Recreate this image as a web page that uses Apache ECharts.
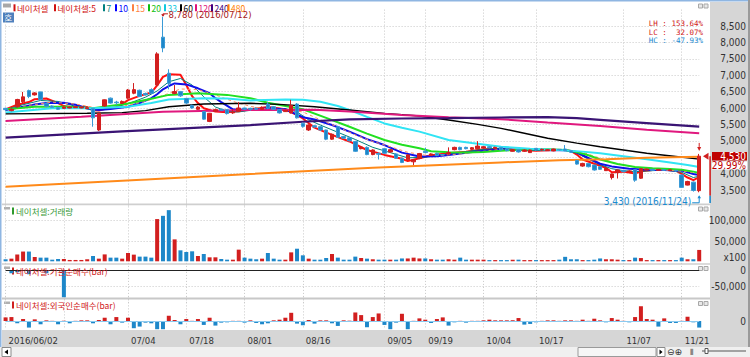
<!DOCTYPE html>
<html><head><meta charset="utf-8">
<script src="https://cdn.jsdelivr.net/npm/echarts@6/dist/echarts.min.js"></script>
<style>html,body{margin:0;padding:0;background:#fff}#c{width:750px;height:357px}</style>
</head><body><div id="c"></div>
<script>
const dates = [
'2016/06/02','2016/06/03','2016/06/07','2016/06/08','2016/06/09','2016/06/10','2016/06/13','2016/06/14','2016/06/15','2016/06/16',
'2016/06/17','2016/06/20','2016/06/21','2016/06/22','2016/06/23','2016/06/24','2016/06/27','2016/06/28','2016/06/29','2016/06/30',
'2016/07/01','2016/07/04','2016/07/05','2016/07/06','2016/07/07','2016/07/08','2016/07/11','2016/07/12','2016/07/13','2016/07/14',
'2016/07/15','2016/07/18','2016/07/19','2016/07/20','2016/07/21','2016/07/22','2016/07/25','2016/07/26','2016/07/27','2016/07/28',
'2016/07/29','2016/08/01','2016/08/02','2016/08/03','2016/08/04','2016/08/05','2016/08/08','2016/08/09','2016/08/10','2016/08/11',
'2016/08/12','2016/08/16','2016/08/17','2016/08/18','2016/08/19','2016/08/22','2016/08/23','2016/08/24','2016/08/25','2016/08/26',
'2016/08/29','2016/08/30','2016/08/31','2016/09/01','2016/09/02','2016/09/05','2016/09/06','2016/09/07','2016/09/08','2016/09/09',
'2016/09/12','2016/09/13','2016/09/19','2016/09/20','2016/09/21','2016/09/22','2016/09/23','2016/09/26','2016/09/27','2016/09/28',
'2016/09/29','2016/09/30','2016/10/04','2016/10/05','2016/10/06','2016/10/07','2016/10/10','2016/10/11','2016/10/12','2016/10/13',
'2016/10/14','2016/10/17','2016/10/18','2016/10/19','2016/10/20','2016/10/21','2016/10/24','2016/10/25','2016/10/26','2016/10/27',
'2016/10/28','2016/10/31','2016/11/01','2016/11/02','2016/11/03','2016/11/04','2016/11/07','2016/11/08','2016/11/09','2016/11/10',
'2016/11/11','2016/11/14','2016/11/15','2016/11/16','2016/11/17','2016/11/18','2016/11/21','2016/11/22','2016/11/23','2016/11/24'];

// [open, close, low, high]
const candles = [
[5990,5950,5900,6010],[5920,5960,5900,5990],[6040,6260,6010,6280],[6190,6340,6150,6490],[6530,6350,6300,6560],
[6400,6460,6380,6480],[6490,6260,6240,6500],[6140,6050,6020,6170],[6060,6020,6000,6080],[6010,5960,5940,6040],
[5990,6030,5970,6060],[6000,6030,5990,6050],[6010,6040,6000,6060],[6000,6030,5990,6050],[5980,6010,5970,6030],
[5990,5700,5430,6000],[5330,5840,5300,5850],[6060,6250,6040,6260],[6300,6150,6130,6320],[6180,6160,6100,6220],
[6140,6200,6120,6230],[6300,6550,6280,6580],[6450,6560,6420,6760],[6540,6350,6330,6560],[6440,6400,6380,6470],
[6560,6450,6430,6600],[6700,7650,6650,7700],[8160,7830,7700,8780],[7060,6750,6570,7180],[6440,6500,6420,6700],
[6500,6370,6340,6520],[6290,6150,6120,6300],[6080,6000,5980,6100],[5960,6030,5940,6060],[5890,5660,5640,5900],
[5590,5840,5570,5850],[5900,5950,5880,5980],[5960,5930,5910,5980],[5950,5830,5800,5960],[5850,5880,5820,5960],
[5900,6000,5890,6180],[6000,5960,5940,6010],[5990,5960,5920,6010],[5990,5960,5940,6020],[5960,6000,5950,6050],
[6120,5990,5960,6180],[6040,5960,5940,6060],[5950,5850,5830,5960],[5890,5930,5880,5950],[5850,6080,5830,6250],
[6120,5700,5680,6150],[5530,5440,5400,5560],[5330,5480,5300,5500],[5460,5420,5400,5480],[5430,5330,5300,5440],
[5330,5050,5020,5340],[5050,5200,5030,5220],[5430,5110,5090,5460],[5130,5080,5060,5150],[5090,5000,4980,5110],
[4980,4680,4660,5000],[4760,4810,4740,4830],[4800,4580,4560,4830],[4580,4720,4560,4740],[4610,4590,4430,4650],
[4760,4620,4600,4780],[4660,4730,4640,4750],[4600,4470,4450,4620],[4470,4340,4320,4480],[4420,4570,4400,4590],
[4360,4420,4260,4440],[4460,4610,4440,4630],[4680,4640,4620,4790],[4550,4600,4540,4620],[4620,4550,4530,4640],
[4580,4570,4550,4600],[4600,4640,4580,4800],[4730,4800,4710,4820],[4800,4730,4710,4820],[4800,4760,4740,4820],
[4740,4790,4720,4810],[4760,4840,4740,4990],[4780,4820,4760,4840],[4820,4790,4770,4840],[4760,4800,4740,4820],
[4800,4720,4700,4810],[4760,4700,4680,4770],[4680,4730,4670,4750],[4730,4660,4640,4740],[4680,4720,4660,4740],
[4640,4720,4630,4730],[4770,4720,4700,4780],[4720,4740,4700,4760],[4700,4730,4690,4750],[4690,4750,4680,4760],
[4740,4720,4700,4750],[4750,4700,4680,4870],[4700,4650,4630,4710],[4400,4290,4270,4420],[4230,4310,4210,4330],
[4310,4210,4190,4320],[4260,4110,4090,4270],[4210,4130,4110,4220],[4090,4160,4080,4170],[3880,3990,3820,4000],
[4030,4110,3850,4120],[4100,4060,4040,4110],[4060,4080,4040,4100],[4120,3800,3750,4130],[3860,4150,3840,4170],
[4110,4140,4100,4150],[4130,4100,4090,4140],[4100,4130,4090,4140],[4120,4100,4090,4130],[4090,4120,4080,4130],
[4100,4080,4060,4110],[3960,3580,3560,3970],[3650,3760,3640,3780],[3740,3485,3450,3760],[3480,4530,3430,4600]];

// volume (x100 shares)
const volume = [
5000,6500,17000,24000,24000,10600,9000,9000,4000,5700,
5700,3300,3300,3300,5000,13000,6500,17000,9000,9000,
6500,20500,16400,11500,11500,9000,104000,112000,126000,54000,
27000,23000,24600,13000,18000,9800,9800,5700,4000,4000,
28700,9000,6500,5000,6500,20500,6500,4000,4000,22000,
31000,14700,6500,4000,4000,8200,18000,9000,4000,4000,
11500,8200,6500,5000,4000,4000,4000,4000,7000,7000,
9000,7000,7000,5000,4000,4000,5000,4000,9000,4000,
4000,4000,4000,3000,3000,3000,3000,4000,4000,3000,
3000,3000,3000,3000,3000,4000,11000,5000,5000,3000,
3000,4000,7000,5000,5000,4000,3000,3000,9000,8000,
3000,3000,3000,3000,3000,3000,9000,5000,5000,28000];

// institution net buying
const instNet = [
0,-9000,-6000,0,-12000,0,0,-9000,0,0,
-82000,0,0,0,0,0,0,0,0,0,
0,0,0,0,0,0,0,0,0,0,
0,0,0,0,0,0,0,0,0,0,
0,0,0,0,0,0,0,0,0,0,
0,0,0,0,0,0,0,0,0,0,
0,0,0,0,0,0,0,0,0,0,
0,0,0,0,0,0,0,0,0,0,
0,0,0,0,1500,0,0,0,0,0,
0,0,0,0,0,0,0,1500,0,1500,
0,0,1500,1500,0,-1500,0,0,0,0,
0,0,0,0,0,0,0,0,0,0];

// foreign net buying
const foreignNet = [
11000,12000,-7000,6000,-20000,5000,-10000,2000,500,-10000,
1000,-7000,500,2000,2000,-7000,3000,10000,-10000,12000,
-5000,10000,-22000,-17000,-5000,-7000,-27000,-27000,16000,3000,
-10000,6000,500,6000,-12000,10000,-14000,-5000,-4000,500,
500,-5000,2000,-6000,-10000,-7000,2000,4000,10000,25000,
-8000,-13000,3000,-8000,2000,2000,-7000,-15000,2000,1000,
26000,18000,-19000,12000,23000,-12000,-27000,-5000,22000,-27000,
500,8000,4000,-6000,6000,11000,-14000,-4000,500,-5000,
500,500,2000,4000,2000,2000,2000,2000,9000,-11000,
-9000,-4000,500,2000,2000,500,2000,2000,500,4000,
500,7000,2000,-4000,9000,4000,500,-4000,12000,45000,
6000,4000,-17000,8000,-6000,-6000,500,13000,-4000,-20000];

// moving averages: [dayIndex, price]
const ma5 = [[0,5960],[2,6100],[4,6180],[5,6270],[7,6290],[9,6150],[10,6060],[12,6010],[14,6030],[15,5930],[16,5920],[17,5970],[19,6020],[20,6120],[21,6240],[23,6370],[25,6470],[26,6690],[27,6950],[28,7030],[30,7010],[31,6700],[32,6360],[33,6150],[34,5990],[36,5890],[38,5870],[40,5900],[42,5960],[45,6030],[48,5960],[50,5780],[51,5680],[53,5400],[56,5180],[59,4980],[62,4720],[65,4570],[68,4450],[69,4380],[71,4470],[73,4560],[76,4620],[79,4670],[82,4740],[85,4760],[88,4720],[91,4700],[94,4720],[96,4720],[97,4690],[98,4580],[99,4430],[101,4300],[103,4180],[104,4040],[106,4060],[108,4000],[109,4070],[111,4110],[114,4110],[115,4090],[116,3990],[117,3880],[118,3800],[119,3890]];
const ma7 = [[0,5950],[3,6100],[6,6230],[9,6200],[12,6050],[15,5930],[18,5990],[21,6130],[24,6330],[26,6520],[28,6800],[30,6900],[32,6700],[34,6340],[36,6030],[38,5900],[40,5880],[42,5930],[45,5990],[48,5980],[50,5880],[52,5640],[54,5480],[57,5260],[60,5040],[63,4800],[66,4640],[69,4480],[72,4500],[75,4580],[78,4640],[81,4720],[84,4770],[87,4740],[90,4710],[93,4730],[96,4720],[98,4620],[100,4440],[102,4270],[104,4150],[106,4090],[108,4060],[110,4080],[113,4110],[116,4040],[118,3880],[119,3920]];
const ma10 = [[0,5940],[3,6040],[5,6110],[7,6150],[10,6160],[12,6100],[14,5990],[16,5940],[18,5970],[21,6040],[23,6150],[25,6300],[26,6420],[27,6570],[28,6670],[29,6750],[31,6720],[33,6600],[35,6450],[36,6300],[37,6180],[39,5960],[42,5940],[45,5990],[48,5960],[51,5720],[53,5650],[56,5480],[59,5280],[62,5050],[65,4870],[68,4640],[71,4520],[74,4530],[76,4570],[80,4660],[85,4740],[88,4730],[91,4720],[96,4710],[98,4650],[99,4560],[102,4300],[104,4220],[107,4150],[110,4120],[113,4110],[116,4090],[118,3990],[119,3960]];
const ma15 = [[0,5950],[4,6080],[8,6180],[12,6120],[16,5990],[20,6050],[24,6200],[27,6380],[30,6580],[33,6560],[36,6400],[39,6200],[42,6050],[45,5960],[48,5960],[51,5880],[54,5640],[57,5420],[60,5180],[63,4980],[66,4820],[69,4650],[72,4560],[75,4560],[78,4600],[81,4660],[84,4720],[87,4750],[90,4740],[93,4730],[96,4720],[99,4650],[102,4470],[105,4300],[108,4200],[111,4130],[114,4100],[117,4060],[119,4000]];
const ma20 = [[0,5960],[5,6040],[11,6040],[15,5990],[21,6140],[25,6280],[28,6400],[33,6450],[38,6400],[42,6300],[45,6160],[48,6060],[51,5960],[55,5700],[59,5430],[62,5220],[65,5024],[68,4880],[71,4770],[73,4680],[76,4650],[79,4640],[82,4660],[85,4700],[89,4730],[93,4740],[96,4720],[98,4660],[100,4560],[102,4430],[105,4290],[108,4200],[111,4160],[114,4140],[116,4120],[118,4060],[119,4020]];
const ma33 = [[0,5860],[8,5990],[15,5990],[21,6040],[25,6150],[28,6260],[34,6300],[38,6290],[42,6230],[48,6260],[51,6250],[54,6190],[57,6060],[59,5940],[62,5730],[65,5530],[68,5400],[71,5280],[76,5024],[80,4930],[85,4820],[90,4760],[95,4720],[99,4670],[102,4620],[106,4530],[110,4440],[114,4340],[117,4260],[119,4200]];
const ma60 = [[0,5820],[14,5840],[20,5860],[24,5920],[28,6040],[34,6120],[42,6143],[47,6110],[53,6040],[59,5940],[65,5837],[71,5756],[76,5634],[81,5500],[85,5380],[89,5230],[93,5076],[98,4930],[102,4820],[106,4720],[110,4620],[115,4520],[119,4440]];
const ma120 = [[0,5600],[13,5735],[27,5888],[42,5940],[53,5950],[59,5890],[68,5790],[76,5716],[85,5660],[93,5560],[102,5450],[110,5340],[119,5230]];
const ma240 = [[0,5095],[20,5290],[42,5480],[51,5580],[59,5655],[68,5680],[76,5690],[85,5710],[93,5720],[98,5690],[102,5640],[110,5540],[119,5430]];
const ma480 = [[0,3600],[20,3780],[42,3990],[63,4180],[85,4340],[95,4410],[103,4440],[110,4480],[119,4515]];

const gridDays = ['2016/06/02','2016/06/17','2016/07/04','2016/07/18','2016/08/01','2016/08/16','2016/09/05','2016/09/19','2016/10/04','2016/10/17','2016/11/07','2016/11/21'];
const labelDays = ['2016/06/02','2016/07/04','2016/07/18','2016/08/01','2016/08/16','2016/09/05','2016/09/19','2016/10/04','2016/10/17','2016/11/07','2016/11/21'];
const priceTicks = [3500,4000,5000,5500,6000,6500,7000,7500,8000,8500]; // 4,500 is hidden behind the current-price box
const volTicks = [50000,100000];
const instTicks = [0,-50000];
const foreignTicks = [0];
const legendItems = ['네이처셀','네이처셀:5','7','10','15','20','33','60','120','240','480'];

const UP = '#d21f1f', DOWN = '#1d87c9';
const NUM = "'Liberation Sans Narrow','DejaVu Sans Condensed','Liberation Sans',sans-serif";
const KR = "'Noto Sans CJK KR','Noto Sans',sans-serif";
const fmt = v => v.toLocaleString('en-US');

const maDefs = [
  ['네이처셀:5', ma5, '#ff1010', 2, 'solid'],
  ['7', ma7, '#00807a', 1, 'solid'],
  ['10', ma10, '#1010e8', 2, 'solid'],
  ['15', ma15, '#ff9060', 1, [3,3]],
  ['20', ma20, '#22e022', 2, 'solid'],
  ['33', ma33, '#30e4f4', 2, 'solid'],
  ['60', ma60, '#000000', 1.4, 'solid'],
  ['120', ma120, '#e0187e', 2, 'solid'],
  ['240', ma240, '#3a1474', 2.2, 'solid'],
  ['480', ma480, '#ff8a1a', 2, 'solid']
];
const legendColors = ['#d01010','#d01010','#008080','#0000ff','#ff8040','#10c010','#10c8e0','#000000','#e0107a','#400080','#ff8000'];
const legendX = [13.5,54,103,115,132,148,164,180,195,211,227.5];

const gridSet = new Set(gridDays), labelSet = new Set(labelDays);
const L = 5.6, R = 50.8;
const grids = [
  {left:L, right:R, top:9.6, height:196.8},
  {left:L, right:R, top:200.4, height:60.9},
  {left:L, right:R, top:253.9, height:49.2},
  {left:L, right:R, top:296.4, height:32.8}
];
const xAxes = grids.map((g,i)=>({
  type:'category', gridIndex:i, data:dates, boundaryGap:false,
  axisLine:{show:false}, axisTick:{show:false},
  axisLabel: i===3 ? {
    show:true, interval:(idx,v)=>labelSet.has(v), align:'left', padding:[0,0,0,3], margin:6,
    fontSize:9.5, color:'#333', fontFamily:NUM,
    formatter:v=> v===labelDays[0] ? v : v.slice(5)
  } : {show:false},
  splitLine:{show:true, interval:(idx,v)=>gridSet.has(v), lineStyle:{color:'#c8c8c8', width:1, type:[1,2]}}
}));
function yAx(i, min, max, interval, ticks, split){
  return {type:'value', gridIndex:i, position:'right', min, max, interval,
    axisLine:{show:false}, axisTick:{show:false},
    axisLabel:{align:'right', margin:46.8, fontSize:10, color:'#333', fontFamily:NUM,
      formatter:v=> ticks.includes(v) ? fmt(v) : ''},
    splitLine:{show:split, showMinLine:false, showMaxLine:false, lineStyle:{color:'#c8c8c8', width:1, type:[1,2]}}
  };
}
const yAxes = [
  yAx(0,3000,9000,500,priceTicks,true),
  yAx(1,0,150000,50000,volTicks,true),
  yAx(2,-100000,50000,50000,instTicks,true),
  yAx(3,-25000,75000,25000,foreignTicks,false)
];

const series = [{
  name:'네이처셀', type:'candlestick', xAxisIndex:0, yAxisIndex:0, data:candles, barWidth:4, z:4, clip:false,
  itemStyle:{color:UP, color0:DOWN, borderColor:UP, borderColor0:'#3a9ad6', borderWidth:1}
}];
maDefs.forEach(([name,data,color,w,type])=>{
  series.push({name, type:'line', xAxisIndex:0, yAxisIndex:0, data, symbol:'none', z:3, silent:true,
    lineStyle:{color, width:w, type}, itemStyle:{color}});
});
series.push({name:'거래량', type:'bar', xAxisIndex:1, yAxisIndex:1, barWidth:4, clip:false,
  data: volume.map((v,i)=>({value:v, itemStyle:{color: candles[i][1]>=candles[i][0]?UP:DOWN}}))});
series.push({name:'기관순매수', type:'bar', xAxisIndex:2, yAxisIndex:2, barWidth:4,
  data: instNet.map(v=>({value:v, itemStyle:{color: v>=0?'#ee7070':DOWN}})),
  markLine:{silent:true, symbol:'none', label:{show:false}, lineStyle:{color:'#222', width:1, type:'solid'}, data:[{yAxis:0}]}});
series.push({name:'외국인순매수', type:'bar', xAxisIndex:3, yAxisIndex:3, barWidth:4,
  data: foreignNet.map(v=>({value:v, itemStyle:{color: v>=0?UP:DOWN}})),
  markLine:{silent:true, symbol:'none', label:{show:false}, lineStyle:{color:'#8ccaf0', width:1, type:'solid'}, data:[{yAxis:0}]}});

const chart = echarts.init(document.getElementById('c'), null, {renderer:'svg'});
chart.setOption({
  animation:false, backgroundColor:'#ffffff',
  grid:grids, xAxis:xAxes, yAxis:yAxes, series
});

// annotations positioned through the chart's own scales
const P = (d,v)=>chart.convertToPixel({xAxisIndex:0, yAxisIndex:0}, [d,v]);
const hiIdx = 27, loIdx = 119;
const hp = P(dates[hiIdx], candles[hiIdx][3]);
const lp = P(dates[loIdx], candles[loIdx][2]);
const last = candles[candles.length-1];
const cp = P(dates[loIdx], last[1]);
const lastHigh = P(dates[loIdx], last[3]);
const v0 = chart.convertToPixel({xAxisIndex:1, yAxisIndex:1}, [dates[0], 0]);
const prevClose = candles[candles.length-2][1];
const pct = ((last[1]-prevClose)/prevClose*100).toFixed(2)+'%';

const g = [];
const rect=(x,y,w,h,fill,z=-5,stroke)=>g.push({type:'rect', z, silent:true, shape:{x,y,width:w,height:h}, style:{fill, stroke:stroke||null, lineWidth:stroke?1:0}});
const line=(pts,stroke,w=1,z=10)=>g.push({type:'polyline', z, silent:true, shape:{points:pts}, style:{stroke, lineWidth:w, fill:null}});
const text=(x,y,t,fill,size,font,align='left',z=10,extra={})=>g.push({type:'text', z, silent:true, x, y, style:Object.assign({text:t, fill, fontSize:size, fontFamily:font, align, verticalAlign:'middle'},extra)});
const tri=(pts,fill,z=10)=>g.push({type:'polygon', z, silent:true, shape:{points:pts}, style:{fill}});

// frame & panels
rect(0,0,750,1.5,'#8fb6e2',-4);
rect(0,0,1.5,347,'#8fb6e2',-4);
rect(710,2,38,345,'#d6d6d6',-4);
rect(748,0,2,347,'#9a9a9a',-4);
rect(2,330,746,17,'#d6d6d6',-4);
rect(0,347,750,10,'#f0f0f0',-4);
rect(2,203.5,708,1.8,'#cfcfcf',-3);
rect(2,263.2,708,1.6,'#cfcfcf',-3);
rect(2,297.6,708,2,'#c8c8c8',-3);
// bottom controls
rect(2,347.5,9,9,'#ffffff',-2,'#8a8a8a');
tri([[4.5,352],[8,349.5],[8,354.5]],'#000',-1);
rect(578,347.5,78,9,'#f6f6f6',-2,'#9a9a9a');
rect(657,347.5,8,9,'#ffffff',-2,'#8a8a8a');
tri([[662.5,352],[659.5,349.5],[659.5,354.5]],'#000',-1);
text(667,352,'⊖⊕','#333',9,"'DejaVu Sans',sans-serif",'left',1);
text(690,352,'⦀','#333',8,"'DejaVu Sans',sans-serif",'left',1);
line([[702,351],[746,351]],'#555',1,1);
rect(705,348.5,3,5,'#ffffff',1,'#555');
// top-left icons
rect(3,3.5,8,4,'#a8a8a8',-1);
rect(3,12.5,11,10,'#4f81bd',-1);
text(8.5,17.7,'호','#ffffff',8,KR,'center',1);
// legend row
legendItems.forEach((name,i)=>{
  rect(legendX[i],4.3,2,7,legendColors[i],6);
  text(legendX[i]+3.5,8,name,legendColors[i],8.5,KR,'left',6);
});
// panel icons
[4,207,266.5,301.5].forEach(y=>{ if(y>5) rect(4,y,6,2.5,'#b0b0b0',-1); rect(698.5,y,4,4,'#e8e8e8',-1,'#a8a8a8'); rect(704,y,4,4,'#e8e8e8',-1,'#a8a8a8'); });
// panel titles
rect(12,207.5,2,7,'#2e9a2e',1); text(16,211.2,'네이처셀:거래량','#3a9a3a',8.5,KR);
rect(12,267.5,2,7,'#d02020',1); text(16,271.2,'네이처셀:기관순매수(bar)','#d02020',8.5,KR);
rect(12,301.5,2,7,'#d02020',1); text(16,305.2,'네이처셀:외국인순매수(bar)','#d02020',8.5,KR);
// LH/LC/HC
text(703,23.5,'LH : 153.64%','#d01818',7.5,"'DejaVu Sans Mono',monospace",'right');
text(703,32,'LC :  32.07%','#d01818',7.5,"'DejaVu Sans Mono',monospace",'right');
text(703,40.5,'HC : -47.93%','#1a8ad0',7.5,"'DejaVu Sans Mono',monospace",'right');
// high annotation
line([[hp[0],hp[1]-1],[hp[0],hp[1]-3],[hp[0]+5,hp[1]-3]],'#c01818',1);
tri([[hp[0]-1.8,hp[1]-2.5],[hp[0]+1.8,hp[1]-2.5],[hp[0],hp[1]]],'#c01818');
text(hp[0]+5.5,hp[1]-2,fmt(candles[hiIdx][3])+' ('+dates[hiIdx]+')','#a82020',9.5,NUM,'left',7);
// low annotation
line([[lp[0]-7,lp[1]+10.5],[lp[0],lp[1]+10.5],[lp[0],lp[1]+4]],'#1a8ad0',1);
tri([[lp[0]-1.8,lp[1]+6],[lp[0]+1.8,lp[1]+6],[lp[0],lp[1]+3]],'#1a8ad0');
text(lp[0]-8,lp[1]+9.5,fmt(candles[loIdx][2])+' ('+dates[loIdx]+')','#1a8ad0',10,NUM,'right');
// last-day high arrow
tri([[lastHigh[0]-2,lastHigh[1]-7],[lastHigh[0]+2,lastHigh[1]-7],[lastHigh[0],lastHigh[1]-3]],'#d02020');
line([[lastHigh[0],lastHigh[1]-11],[lastHigh[0],lastHigh[1]-7]],'#d02020',1);
// current price marker
rect(709.3,cp[1],1.6,lp[1]+3.5-cp[1],'#d02020',2);
rect(709.3,lp[1]+3.5,1.6,203-(lp[1]+3.5),'#1d87c9',2);
tri([[703,cp[1]],[708.5,cp[1]-3.5],[708.5,cp[1]+3.5]],'#d02020');
rect(712,cp[1]-4.2,35,8.4,'#c00000',5);
text(746,cp[1]+0.2,fmt(last[1]),'#ffffff',10,NUM,'right',12);
rect(712,cp[1]+5.2,35,8,'#ffffff',5);
text(746,cp[1]+9.3,pct,'#c00000',10,NUM,'right',12);
// volume unit
text(746,v0[1]-4,'x100','#333',10,NUM,'right');

chart.setOption({graphic:g});
</script></body></html>
